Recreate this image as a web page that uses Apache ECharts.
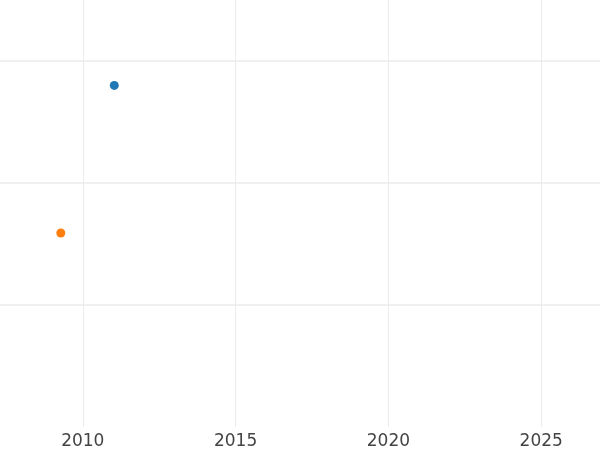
<!DOCTYPE html>
<html>
<head>
<meta charset="utf-8">
<script src="https://cdn.jsdelivr.net/npm/echarts@6/dist/echarts.min.js"></script>
<style>html,body{margin:0;padding:0;background:#fff}#c{width:600px;height:450px}</style>
</head>
<body>
<div id="c"></div>
<script>
const seriesNames = ['A', 'B'];
const seriesColors = ['#1f77b4', '#ff7f0e'];
const seriesX = [2011.03, 2009.28];
const seriesY = [2.8, 1.59];
const xTicks = [2005, 2010, 2015, 2020, 2025, 2030];

const chart = echarts.init(document.getElementById('c'));
chart.setOption({
  animation: false,
  backgroundColor: '#fff',
  grid: { left: -70, right: -94, top: -61, bottom: 23, containLabel: false, outerBoundsMode: 'none' },
  xAxis: {
    type: 'value', min: xTicks[0], max: xTicks[xTicks.length - 1], interval: 5,
    axisLine: { show: false }, axisTick: { show: false },
    axisLabel: { color: '#444', fontSize: 17, fontFamily: 'DejaVu Sans', margin: 6, formatter: v => String(v) },
    splitLine: { show: true, lineStyle: { color: '#ebebeb', width: 1 } }
  },
  yAxis: {
    type: 'value', min: 0, max: 4, interval: 1,
    axisLine: { show: false }, axisTick: { show: false }, axisLabel: { show: false },
    splitLine: { show: true, showMinLine: false, lineStyle: { color: '#ebebeb', width: 1.5 } }
  },
  series: seriesNames.map((n, i) => ({
    name: n, type: 'scatter', symbolSize: 9,
    itemStyle: { color: seriesColors[i], opacity: 1 },
    data: [[seriesX[i], seriesY[i]]]
  }))
});
</script>
</body>
</html>
